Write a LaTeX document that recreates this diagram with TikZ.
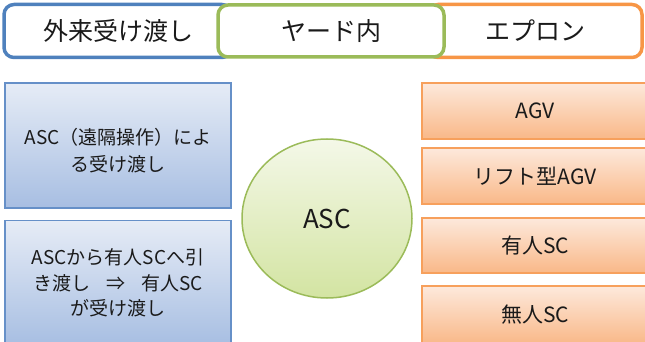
\documentclass[tikz,border=0pt]{standalone}
\usepackage{fontspec}
\setmainfont{Noto Sans CJK JP}
\usetikzlibrary{shapes.geometric}
\definecolor{hblue}{HTML}{4F81BD}
\definecolor{hgreen}{HTML}{9BBB59}
\definecolor{horange}{HTML}{F79646}
\definecolor{bbord}{HTML}{6690C8}
\definecolor{btop}{HTML}{E6ECF6}
\definecolor{bbot}{HTML}{A7BEE2}
\definecolor{obord}{HTML}{F7A05C}
\definecolor{otop}{HTML}{FDE9DC}
\definecolor{obot}{HTML}{F9B888}
\definecolor{gtop}{HTML}{F4F8E8}
\definecolor{gbot}{HTML}{D3E4A2}
\definecolor{txt}{HTML}{1A1A1A}
\tikzset{
  hdr/.style={draw, line width=3.5pt, rounded corners=10pt, fill=white,
    minimum height=53pt, inner sep=0pt, font=\fontsize{25}{28}\selectfont, text=txt},
  lbox/.style={draw=bbord, line width=1.5pt, top color=btop, bottom color=bbot,
    minimum width=226pt, inner sep=0pt, align=center, text=txt,
    font=\fontsize{19}{25.5}\selectfont},
  rbox/.style={draw=obord, line width=1.5pt, top color=otop, bottom color=obot,
    minimum width=226pt, inner sep=0pt, text=txt,
    font=\fontsize{21}{24}\selectfont},
}
\begin{document}
\begin{tikzpicture}[x=1pt,y=-1pt]
\useasboundingbox (0,0) rectangle (645,342);
% header
\node[hdr, draw=hblue, minimum width=228pt] (h1) at (118,31) {外来受け渡し};
\node[hdr, draw=horange, minimum width=214pt] (h3) at (535,31) {エプロン};
\node[hdr, draw=hgreen, minimum width=226pt, minimum height=52pt] (h2) at (331,31) {ヤード内};
% left boxes
\node[lbox, minimum height=125pt] (l1) at (118,145.5) {};
\node[text=txt, align=center, font=\fontsize{19}{27}\selectfont, inner sep=0pt] (l1t) at (118,151) {ASC（遠隔操作）によ\\る受け渡し};
\node[lbox, minimum height=125pt] (l2) at (118,283) {ASCから有人SCへ引\\き渡し\hspace{16pt}{⇒}\hspace{16pt}有人SC\\が受け渡し};
% circle
\node[ellipse, draw=hgreen, line width=1.5pt, top color=gtop, bottom color=gbot,
  minimum width=170pt, minimum height=159pt, inner sep=0pt, text=txt,
  font=\fontsize{26}{30}\selectfont] (c) at (327,218.5) {ASC};
% right boxes
\node[rbox, minimum height=56pt] (r1) at (535,111) {AGV};
\node[rbox, minimum height=56pt] (r2) at (535,176) {リフト型AGV};
\node[rbox, minimum height=55pt] (r3) at (535,245.5) {有人SC};
\node[rbox, minimum height=58pt] (r4) at (535,315) {無人SC};
\end{tikzpicture}
\end{document}
